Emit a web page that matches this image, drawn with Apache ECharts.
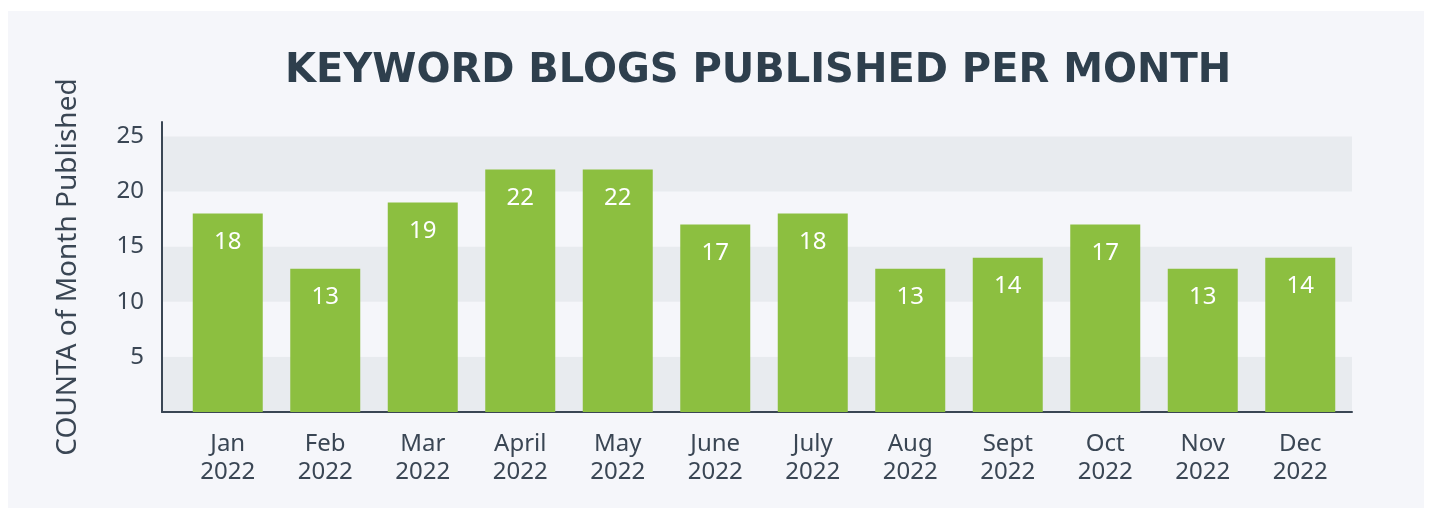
<!DOCTYPE html>
<html>
<head>
<meta charset="utf-8">
<script src="https://cdn.jsdelivr.net/npm/echarts@6/dist/echarts.min.js"></script>
<style>
  html, body { margin: 0; padding: 0; background: #ffffff; }
  #chart { width: 1429px; height: 508px; }
</style>
</head>
<body>
<div id="chart"></div>
<script>
// month labels (two lines) and counts
var months = ['Jan', 'Feb', 'Mar', 'April', 'May', 'June', 'July', 'Aug', 'Sept', 'Oct', 'Nov', 'Dec'];
var year = '2022';
var counts = [18, 13, 19, 22, 22, 17, 18, 13, 14, 17, 13, 14];
var yTicks = [5, 10, 15, 20, 25];

var textColor = '#3a4654';
var yMax = 26.3;

var chart = echarts.init(document.getElementById('chart'));

var monthLabels = months.map(function (m) { return m + '\n' + year; });

var option = {
  backgroundColor: '#ffffff',
  graphic: [
    {
      type: 'rect',
      z: -10,
      shape: { x: 8, y: 11, width: 1416, height: 497 },
      style: { fill: '#f5f6fa' }
    }
  ],
  title: {
    text: 'KEYWORD BLOGS PUBLISHED PER MONTH',
    left: 280,
    top: 47,
    textStyle: {
      fontFamily: 'DejaVu Sans',
      fontWeight: 'bold',
      fontSize: 40,
      color: '#2e3f4d'
    }
  },
  // grid 0 carries the y axis, bands and axis lines; grid 1 the bars
  grid: [
    { left: 162, right: 77, top: 122, bottom: 96 },
    { left: 179, right: 80, top: 122, bottom: 96 }
  ],
  xAxis: [
    {
      type: 'category',
      gridIndex: 0,
      data: monthLabels,
      axisLine: { lineStyle: { color: '#3a4654', width: 2 } },
      axisTick: { show: false },
      axisLabel: { show: false }
    },
    {
      type: 'category',
      gridIndex: 1,
      data: monthLabels,
      axisLine: { show: false },
      axisTick: { show: false },
      axisLabel: {
        color: textColor,
        fontFamily: 'Noto Sans',
        fontSize: 24,
        lineHeight: 28,
        margin: 18
      }
    }
  ],
  yAxis: [
    {
      type: 'value',
      gridIndex: 0,
      min: 0,
      max: yMax,
      interval: 5,
      name: 'COUNTA of Month Published',
      nameLocation: 'middle',
      nameGap: 80,
      nameTextStyle: {
        color: textColor,
        fontFamily: 'Noto Sans',
        fontSize: 28
      },
      axisLine: { show: true, lineStyle: { color: '#3a4654', width: 2 } },
      axisTick: { show: false },
      splitLine: { show: false },
      splitArea: {
        show: true,
        areaStyle: { color: ['#e8ebef', '#f5f6fa'] }
      },
      axisLabel: {
        color: textColor,
        fontFamily: 'Noto Sans',
        fontSize: 24,
        margin: 18,
        formatter: function (v) {
          return yTicks.indexOf(v) >= 0 ? String(v) : '';
        }
      }
    },
    {
      type: 'value',
      gridIndex: 1,
      min: 0,
      max: yMax,
      interval: 5,
      show: false,
      splitLine: { show: false }
    }
  ],
  series: [
    {
      type: 'bar',
      xAxisIndex: 1,
      yAxisIndex: 1,
      data: counts,
      barWidth: 70,
      itemStyle: { color: '#8cbf40' },
      label: {
        show: true,
        position: 'insideTop',
        distance: 17,
        color: '#ffffff',
        fontFamily: 'Noto Sans',
        fontSize: 24
      }
    }
  ]
};

chart.setOption(option);
</script>
</body>
</html>
